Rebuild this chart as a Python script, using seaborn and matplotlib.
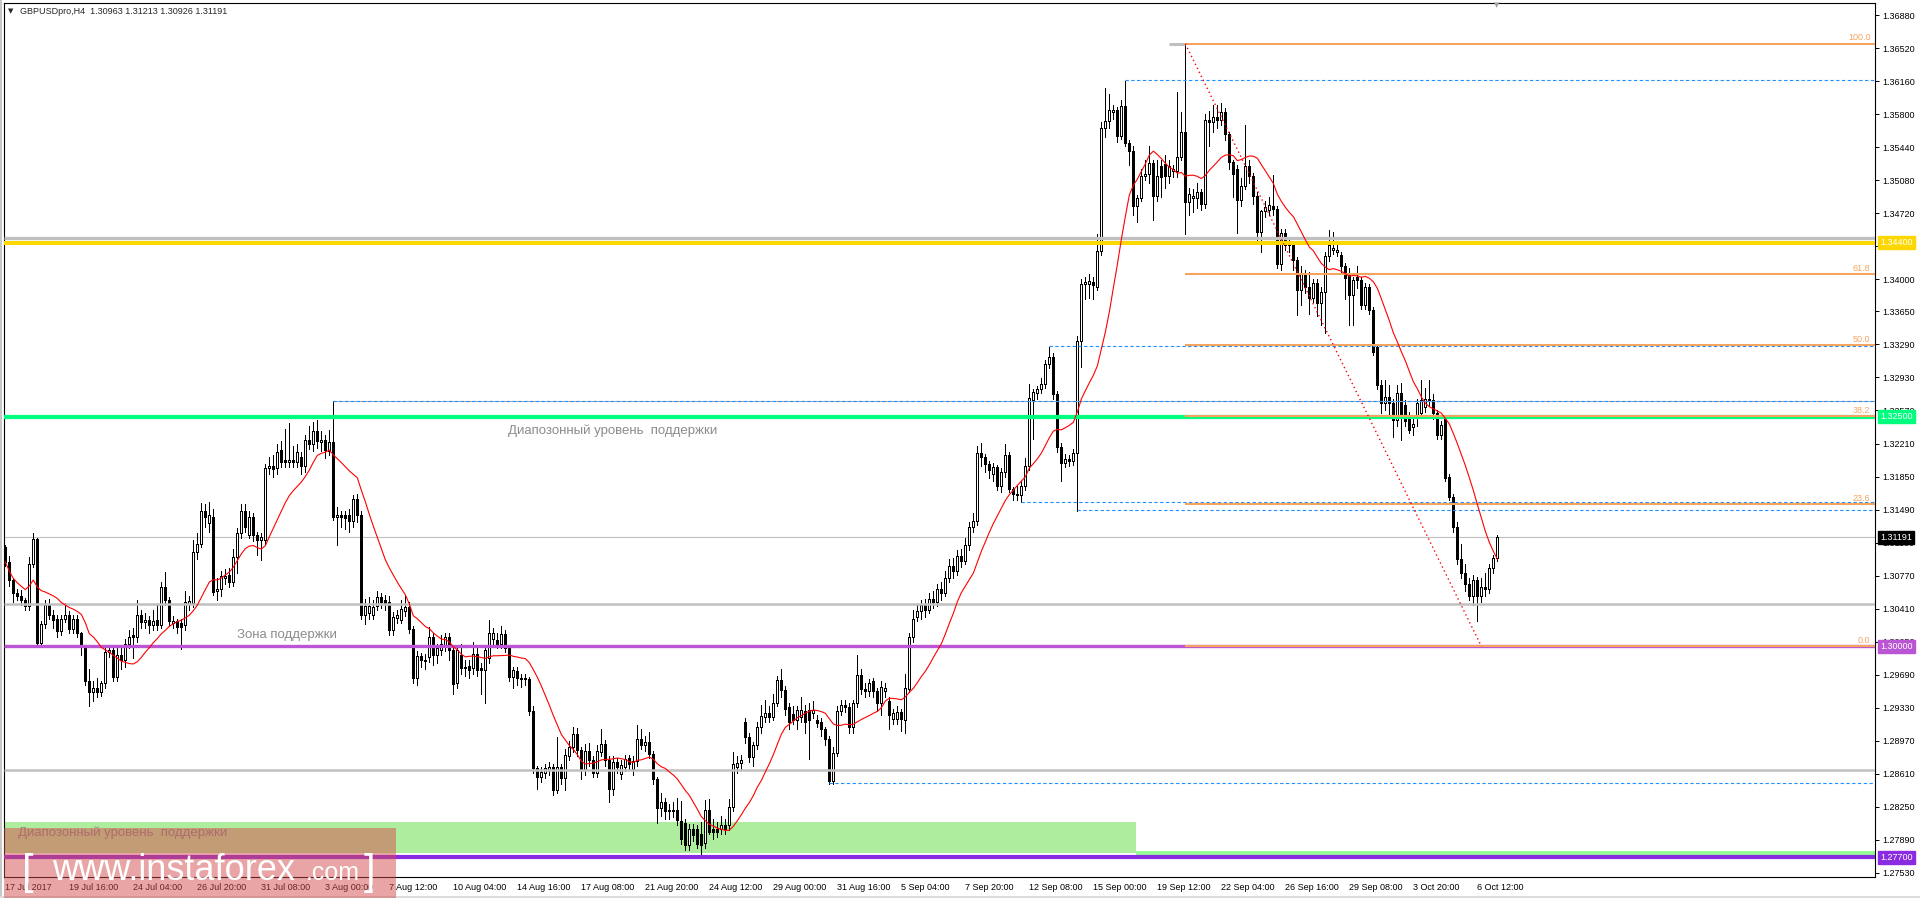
import matplotlib
matplotlib.use("Agg")
import matplotlib.pyplot as plt
import matplotlib.transforms as mtransforms
from matplotlib.patches import Rectangle
import numpy as np
import pandas as pd
import seaborn as sns

# ----------------------------
# 0. Data: GBPUSD H4 bars from 17 Jul 2017 (prices in 1e-4 units)
# ----------------------------
opens = [
    13108, 13092, 13072, 13058, 13055, 13050, 13044, 13090, 13117, 13004,
    13024, 13045, 13034, 13030, 13017, 13030, 13034, 13019, 13030, 13014,
    12999, 12962, 12950, 12955, 12950, 12960, 12994, 12996, 12967, 12990,
    12985, 13003, 13012, 13010, 13034, 13027, 13029, 13023, 13029, 13023,
    13065, 13050, 13025, 13028, 13025, 13023, 13046, 13047, 13103, 13112,
    13148, 13134, 13141, 13060, 13062, 13074, 13078, 13070, 13097, 13124,
    13148, 13121, 13141, 13121, 13116, 13116, 13194, 13196, 13194, 13214,
    13203, 13201, 13203, 13201, 13206, 13196, 13225, 13220, 13235, 13223,
    13225, 13213, 13223, 13141, 13143, 13143, 13143, 13137, 13161, 13143,
    13034, 13036, 13034, 13044, 13054, 13050, 13048, 13018, 13031, 13029,
    13039, 13043, 13019, 12965, 12989, 12985, 12988, 13010, 12990, 12996,
    13001, 13010, 12996, 12960, 12990, 12976, 12979, 12976, 12992, 12976,
    12974, 12987, 13008, 13007, 13003, 13013, 12998, 12967, 12973, 12965,
    12964, 12964, 12930, 12867, 12858, 12862, 12865, 12868, 12843, 12868,
    12856, 12881, 12890, 12904, 12887, 12865, 12886, 12876, 12862, 12885,
    12894, 12876, 12845, 12874, 12861, 12869, 12878, 12866, 12875, 12899,
    12892, 12896, 12883, 12855, 12824, 12830, 12822, 12820, 12822, 12810,
    12807, 12783, 12801, 12801, 12796, 12786, 12822, 12801, 12801, 12801,
    12805, 12805, 12825, 12868, 12873, 12918, 12901, 12879, 12892, 12912,
    12923, 12927, 12923, 12938, 12963, 12952, 12934, 12926, 12920, 12923,
    12929, 12931, 12927, 12920, 12918, 12910, 12899, 12853, 12884, 12929,
    12936, 12934, 12912, 12938, 12969, 12953, 12951, 12962, 12951, 12938,
    12951, 12940, 12921, 12921, 12928, 12920, 12953, 13010, 13032, 13038,
    13045, 13040, 13052, 13048, 13062, 13058, 13075, 13088, 13082, 13098,
    13093, 13110, 13130, 13137, 13211, 13206, 13199, 13188, 13195, 13175,
    13190, 13208, 13171, 13166, 13165, 13175, 13197, 13268, 13276, 13280,
    13286, 13308, 13315, 13275, 13217, 13200, 13204, 13202, 13211, 13333,
    13395, 13395, 13397, 13392, 13431, 13565, 13573, 13582, 13584, 13556,
    13589, 13549, 13540, 13480, 13489, 13513, 13515, 13527, 13491, 13524,
    13526, 13513, 13518, 13518, 13533, 13560, 13484, 13489, 13489, 13495,
    13482, 13574, 13571, 13577, 13574, 13582, 13558, 13528, 13520, 13486,
    13502, 13524, 13513, 13491, 13452, 13474, 13476, 13480, 13477, 13417,
    13450, 13441, 13437, 13421, 13388, 13406, 13392, 13380, 13396, 13374,
    13386, 13425, 13432, 13430, 13426, 13414, 13405, 13383, 13403, 13399,
    13372, 13392, 13367, 13326, 13285, 13265, 13272, 13265, 13247, 13276,
    13263, 13250, 13239, 13250, 13254, 13261, 13270, 13268, 13254, 13230,
    13248, 13185, 13163, 13130, 13095, 13080, 13068, 13055, 13072, 13055,
    13065, 13062, 13085, 13096,
]
highs = [
    13110, 13098, 13074, 13063, 13061, 13053, 13097, 13124, 13118, 13028,
    13050, 13052, 13040, 13034, 13034, 13047, 13038, 13034, 13034, 13016,
    13001, 12975, 12962, 12966, 12962, 12998, 13000, 13000, 12998, 12998,
    13008, 13018, 13020, 13050, 13040, 13036, 13033, 13040, 13045, 13070,
    13081, 13054, 13033, 13030, 13030, 13060, 13055, 13116, 13124, 13156,
    13155, 13157, 13150, 13075, 13082, 13084, 13085, 13106, 13129, 13155,
    13155, 13148, 13145, 13125, 13124, 13199, 13206, 13208, 13221, 13224,
    13237, 13243, 13218, 13220, 13212, 13230, 13240, 13245, 13247, 13235,
    13230, 13236, 13267, 13152, 13148, 13148, 13150, 13165, 13166, 13148,
    13052, 13054, 13050, 13060, 13058, 13056, 13055, 13037, 13040, 13050,
    13055, 13048, 13022, 12995, 12993, 12992, 13021, 13015, 13003, 13012,
    13015, 13014, 13000, 13000, 13002, 12985, 12985, 13005, 12998, 12982,
    13000, 13029, 13020, 13014, 13022, 13018, 13000, 12978, 12978, 12970,
    12970, 12967, 12935, 12870, 12868, 12872, 12874, 12872, 12901, 12872,
    12888, 12897, 12912, 12911, 12890, 12894, 12895, 12880, 12892, 12910,
    12898, 12880, 12880, 12878, 12876, 12882, 12882, 12880, 12914, 12910,
    12902, 12907, 12886, 12858, 12840, 12835, 12828, 12830, 12835, 12831,
    12812, 12806, 12806, 12805, 12808, 12832, 12834, 12812, 12808, 12815,
    12812, 12834, 12885, 12880, 12882, 12922, 12905, 12896, 12918, 12936,
    12942, 12935, 12948, 12968, 12975, 12957, 12938, 12935, 12935, 12945,
    12936, 12938, 12940, 12925, 12922, 12912, 12902, 12890, 12935, 12942,
    12942, 12938, 12942, 12991, 12975, 12960, 12964, 12965, 12955, 12962,
    12960, 12945, 12932, 12935, 12932, 12970, 13014, 13040, 13045, 13050,
    13052, 13058, 13060, 13068, 13070, 13082, 13095, 13096, 13105, 13106,
    13118, 13135, 13145, 13218, 13222, 13210, 13202, 13200, 13198, 13194,
    13221, 13212, 13174, 13175, 13180, 13205, 13286, 13280, 13284, 13292,
    13312, 13326, 13320, 13278, 13222, 13210, 13208, 13215, 13338, 13400,
    13402, 13406, 13402, 13449, 13571, 13609, 13602, 13590, 13588, 13595,
    13616, 13552, 13545, 13492, 13520, 13530, 13545, 13530, 13530, 13530,
    13535, 13530, 13525, 13604, 13582, 13656, 13500, 13498, 13505, 13498,
    13580, 13583, 13590, 13590, 13592, 13587, 13560, 13530, 13525, 13510,
    13568, 13530, 13516, 13495, 13476, 13485, 13490, 13514, 13480, 13455,
    13455, 13446, 13441, 13424, 13414, 13410, 13408, 13400, 13400, 13392,
    13430, 13454, 13452, 13438, 13430, 13418, 13412, 13403, 13415, 13403,
    13396, 13395, 13370, 13330, 13290, 13290, 13285, 13270, 13285, 13287,
    13268, 13255, 13248, 13270, 13290, 13282, 13290, 13275, 13258, 13246,
    13252, 13188, 13166, 13135, 13112, 13090, 13075, 13078, 13076, 13075,
    13080, 13090, 13100, 13121,
]
lows = [
    13088, 13066, 13048, 13050, 13045, 13040, 13040, 13086, 13002, 13000,
    13020, 13030, 13020, 13010, 13012, 13026, 13015, 13014, 13010, 12991,
    12958, 12935, 12940, 12945, 12946, 12955, 12988, 12962, 12962, 12975,
    12978, 12998, 12987, 13005, 13020, 13020, 13015, 13018, 13018, 13020,
    13045, 13022, 13020, 13015, 12997, 13018, 13040, 13043, 13095, 13108,
    13130, 13125, 13056, 13050, 13055, 13068, 13065, 13066, 13080, 13118,
    13125, 13118, 13115, 13100, 13094, 13112, 13188, 13185, 13188, 13195,
    13195, 13195, 13195, 13195, 13188, 13190, 13215, 13213, 13216, 13213,
    13205, 13208, 13138, 13110, 13130, 13128, 13125, 13130, 13135, 13030,
    13024, 13030, 13030, 13040, 13042, 13040, 13012, 13012, 13025, 13025,
    13033, 13015, 12960, 12958, 12978, 12975, 12983, 12980, 12982, 12990,
    12995, 12985, 12948, 12955, 12970, 12968, 12965, 12970, 12968, 12948,
    12938, 12982, 13002, 12998, 12998, 12994, 12962, 12955, 12958, 12956,
    12958, 12925, 12862, 12845, 12852, 12856, 12860, 12838, 12840, 12850,
    12843, 12876, 12885, 12880, 12855, 12860, 12870, 12858, 12858, 12880,
    12870, 12830, 12838, 12862, 12855, 12864, 12866, 12860, 12870, 12888,
    12886, 12878, 12850, 12807, 12815, 12812, 12812, 12814, 12805, 12785,
    12778, 12778, 12788, 12780, 12772, 12780, 12795, 12790, 12792, 12795,
    12796, 12800, 12820, 12862, 12866, 12895, 12874, 12870, 12888, 12905,
    12918, 12918, 12920, 12935, 12945, 12925, 12910, 12915, 12910, 12918,
    12905, 12877, 12922, 12912, 12902, 12892, 12850, 12850, 12880, 12925,
    12928, 12905, 12906, 12934, 12948, 12945, 12946, 12945, 12930, 12925,
    12945, 12910, 12915, 12915, 12908, 12905, 12950, 13005, 13028, 13030,
    13032, 13036, 13042, 13044, 13050, 13055, 13070, 13075, 13078, 13086,
    13090, 13105, 13125, 13132, 13196, 13190, 13183, 13180, 13170, 13168,
    13185, 13168, 13160, 13160, 13157, 13170, 13192, 13226, 13270, 13276,
    13282, 13303, 13270, 13212, 13180, 13195, 13196, 13198, 13148, 13304,
    13378, 13380, 13378, 13388, 13427, 13555, 13565, 13575, 13550, 13553,
    13545, 13525, 13470, 13462, 13485, 13508, 13505, 13465, 13485, 13490,
    13500, 13505, 13512, 13512, 13530, 13449, 13470, 13473, 13478, 13475,
    13478, 13545, 13560, 13565, 13568, 13552, 13520, 13490, 13450, 13480,
    13498, 13505, 13482, 13440, 13430, 13468, 13470, 13470, 13412, 13410,
    13432, 13430, 13410, 13361, 13372, 13385, 13362, 13375, 13360, 13350,
    13341, 13420, 13428, 13425, 13408, 13379, 13350, 13350, 13390, 13368,
    13368, 13362, 13318, 13280, 13254, 13258, 13250, 13228, 13240, 13225,
    13240, 13232, 13230, 13240, 13250, 13255, 13262, 13248, 13226, 13226,
    13180, 13160, 13125, 13090, 13075, 13060, 13050, 13045, 13028, 13048,
    13055, 13058, 13080, 13093,
]
closes = [
    13092, 13072, 13058, 13055, 13050, 13044, 13090, 13117, 13004, 13024,
    13045, 13034, 13029, 13017, 13030, 13034, 13019, 13030, 13015, 12999,
    12962, 12950, 12955, 12950, 12960, 12994, 12996, 12967, 12990, 12985,
    13003, 13010, 13010, 13034, 13027, 13029, 13023, 13028, 13023, 13065,
    13050, 13028, 13028, 13021, 13021, 13048, 13049, 13103, 13112, 13148,
    13141, 13143, 13059, 13062, 13077, 13077, 13070, 13097, 13124, 13148,
    13130, 13141, 13121, 13116, 13119, 13194, 13196, 13193, 13212, 13201,
    13201, 13203, 13201, 13212, 13196, 13225, 13220, 13235, 13224, 13225,
    13214, 13223, 13141, 13143, 13141, 13140, 13137, 13161, 13143, 13034,
    13044, 13044, 13043, 13054, 13048, 13047, 13018, 13032, 13034, 13041,
    13043, 13019, 12965, 12989, 12985, 12984, 13010, 12990, 12998, 13003,
    13010, 12996, 12959, 12996, 12976, 12978, 12974, 12992, 12974, 12974,
    12996, 13014, 13014, 13003, 13013, 12998, 12967, 12974, 12965, 12964,
    12965, 12930, 12867, 12858, 12863, 12867, 12868, 12843, 12868, 12856,
    12882, 12890, 12904, 12887, 12865, 12886, 12876, 12862, 12886, 12894,
    12876, 12845, 12874, 12869, 12871, 12877, 12872, 12875, 12899, 12892,
    12896, 12883, 12855, 12824, 12830, 12820, 12820, 12822, 12811, 12790,
    12783, 12801, 12794, 12785, 12783, 12822, 12798, 12798, 12798, 12805,
    12801, 12825, 12872, 12873, 12876, 12901, 12879, 12892, 12912, 12924,
    12927, 12923, 12938, 12963, 12952, 12932, 12918, 12920, 12931, 12931,
    12918, 12920, 12931, 12916, 12910, 12899, 12853, 12884, 12929, 12936,
    12934, 12912, 12938, 12969, 12953, 12951, 12960, 12951, 12938, 12956,
    12955, 12925, 12927, 12928, 12921, 12955, 13010, 13030, 13038, 13045,
    13040, 13052, 13048, 13062, 13058, 13075, 13088, 13082, 13098, 13093,
    13110, 13130, 13137, 13211, 13206, 13199, 13192, 13195, 13175, 13190,
    13208, 13171, 13166, 13165, 13175, 13197, 13271, 13277, 13280, 13286,
    13308, 13315, 13275, 13217, 13200, 13204, 13202, 13211, 13333, 13395,
    13397, 13398, 13394, 13431, 13565, 13573, 13584, 13584, 13556, 13589,
    13549, 13540, 13480, 13489, 13513, 13515, 13527, 13491, 13513, 13511,
    13513, 13524, 13520, 13533, 13560, 13484, 13493, 13491, 13495, 13482,
    13574, 13571, 13577, 13574, 13582, 13558, 13528, 13515, 13486, 13502,
    13524, 13513, 13491, 13452, 13474, 13479, 13481, 13477, 13417, 13450,
    13437, 13437, 13421, 13388, 13406, 13392, 13380, 13396, 13374, 13386,
    13425, 13437, 13434, 13432, 13414, 13401, 13383, 13399, 13399, 13372,
    13392, 13367, 13321, 13285, 13265, 13272, 13265, 13247, 13276, 13250,
    13246, 13236, 13242, 13265, 13268, 13270, 13268, 13254, 13230, 13241,
    13183, 13163, 13130, 13095, 13080, 13068, 13055, 13072, 13055, 13065,
    13062, 13085, 13096, 13119,
]

time_labels = [
    "17 Jul 2017", "19 Jul 16:00", "24 Jul 04:00", "26 Jul 20:00", "31 Jul 08:00",
    "3 Aug 00:00", "7 Aug 12:00", "10 Aug 04:00", "14 Aug 16:00", "17 Aug 08:00",
    "21 Aug 20:00", "24 Aug 12:00", "29 Aug 00:00", "31 Aug 16:00", "5 Sep 04:00",
    "7 Sep 20:00", "12 Sep 08:00", "15 Sep 00:00", "19 Sep 12:00", "22 Sep 04:00",
    "26 Sep 16:00", "29 Sep 08:00", "3 Oct 20:00", "6 Oct 12:00",
]
time_label_bars = [0, 16, 32, 48, 64, 80, 96, 112, 128, 144, 160, 176,
                   192, 208, 224, 240, 256, 272, 288, 304, 320, 336, 352, 368]

price_ticks = [1.36880, 1.36520, 1.36160, 1.35800, 1.35440, 1.35080, 1.34720,
               1.34360, 1.34000, 1.33650, 1.33290, 1.32930, 1.32570, 1.32210,
               1.31850, 1.31490, 1.31130, 1.30770, 1.30410, 1.30050, 1.29690,
               1.29330, 1.28970, 1.28610, 1.28250, 1.27890, 1.27530]

# support / resistance levels with price tags on the axis
tag_prices = [1.34400, 1.32500, 1.30000, 1.27700]
tag_colors = ["#FFD700", "#00FF7F", "#BA55D3", "#8A2BE2"]
tag_widths = [2.9, 3.0, 2.4, 3.0]
gray_levels = [1.34455, 1.30460, 1.28652]
bid_price = 1.31191

# dashed helper lines: price and first bar
dash_prices = [1.36172, 1.33273, 1.32677, 1.31576, 1.31486, 1.28511]
dash_start = [280, 261, 82, 254, 268, 206]

# fibonacci retracement
fib_high = 1.36566
fib_low = 1.30000
fib_start, fib_end = 295, 369
fib_levels = [0.0, 23.6, 38.2, 50.0, 61.8, 100.0]

# support zone rectangle
zone_low, zone_high, zone_end = 1.27745, 1.28090, 282.7

# ----------------------------
# 1. Frame
# ----------------------------
df = pd.DataFrame({"open": opens, "high": highs, "low": lows, "close": closes}) / 10000.0
df["bar"] = np.arange(len(df))
df["ma"] = df["close"].rolling(14, min_periods=1).mean()

sns.set_style("white")
plt.rcParams["font.family"] = ["Liberation Sans", "DejaVu Sans"]

W, H = 1920, 898
fig = plt.figure(figsize=(19.2, 8.98), dpi=100)
ax = fig.add_axes([4 / W, 21 / H, 1871 / W, 874 / H])
XMIN, XMAX = -0.33, 467.4
YMIN, YMAX = 1.27486, 1.37011

# support zone (background)
ax.add_patch(Rectangle((XMIN, zone_low), zone_end - XMIN, zone_high - zone_low,
                       facecolor="#AEEC9E", edgecolor="none", zorder=1))
ax.add_patch(Rectangle((zone_end, 1.27722), XMAX - zone_end, 0.00042,
                       facecolor="#98FB98", edgecolor="none", zorder=1))

# candles: 1px wicks, 3px bodies (white = up, black = down)
up = df["close"] >= df["open"]
ax.vlines(df["bar"], df["low"], df["high"], color="black", lw=0.72,
          zorder=3, antialiased=False)
body_bottom = df[["open", "close"]].min(axis=1)
body_height = (df["close"] - df["open"]).abs()
ax.bar(df["bar"], body_height, bottom=body_bottom, width=0.5,
       color=np.where(up, "white", "black"), edgecolor="black",
       linewidth=0.72, zorder=4, antialiased=False)

# moving average
sns.lineplot(data=df, x="bar", y="ma", color="red", linewidth=0.8,
             estimator=None, ax=ax, zorder=7)

# horizontal levels
ax.hlines(bid_price, XMIN, XMAX, color="#C0C0C0", lw=0.8, zorder=2)
for p in gray_levels:
    ax.hlines(p, XMIN, XMAX, color="#C0C0C0", lw=2.4 if p > 1.34 else 1.8, zorder=5)
ax.hlines(1.32677, 82, XMAX, color="#A9A9A9", lw=0.8, zorder=5)
ax.hlines(fib_high, 291, fib_start, color="#C0C0C0", lw=2.2, zorder=5)
for p, s in zip(dash_prices, dash_start):
    ax.hlines(p, s, XMAX, color="#1E90FF", lw=0.8, linestyles=(0, (3, 2.2)), zorder=6)
for p, c, w in zip(tag_prices, tag_colors, tag_widths):
    ax.hlines(p, XMIN, XMAX, color=c, lw=w, zorder=6)

# fibonacci
for lv in fib_levels:
    p = fib_low + (fib_high - fib_low) * lv / 100.0
    ax.hlines(p, fib_start, XMAX, color="#F4A460", lw=1.5, zorder=6)
    ax.text(466.3, p + 0.00015, f"{lv:.1f}", color="#F4A460", fontsize=6.5,
            ha="right", va="bottom", zorder=8)
ax.plot([fib_start, fib_end], [fib_high, fib_low], color="red", lw=1.0,
        linestyle=(0, (1, 2.2)), zorder=6)

# chart notes
ax.text(125.7, 1.32347, "Диапозонный уровень  поддержки", color="#8C8C8C",
        fontsize=9.5, va="center", ha="left", zorder=8)
ax.text(58, 1.30123, "Зона поддержки", color="#8C8C8C",
        fontsize=9.5, va="center", ha="left", zorder=8)
ax.text(3.2, 1.27966, "Диапозонный уровень  поддержки", color="#8C8C8C",
        fontsize=9.5, va="center", ha="left", zorder=8)

# ----------------------------
# 2. Axes
# ----------------------------
ax.set_xlim(XMIN, XMAX)
ax.set_ylim(YMIN, YMAX)
ax.set_xlabel("")
ax.set_ylabel("")
for sp in ax.spines.values():
    sp.set_visible(True)
    sp.set_color("black")
    sp.set_linewidth(0.8)

ax.yaxis.tick_right()
ax.set_yticks(price_ticks)
ax.set_yticklabels([f"{p:.5f}" for p in price_ticks])
ax.tick_params(axis="y", direction="out", length=3, width=0.7, pad=2,
               labelsize=6.5, colors="black", right=True, left=False)
ax.set_xticks(time_label_bars)
ax.set_xticklabels(time_labels, ha="left")
ax.tick_params(axis="x", direction="out", length=3, width=0.7, pad=1.5,
               labelsize=6.5, colors="black")
ax.grid(False)

# price tags on the right axis
tag_tr = mtransforms.blended_transform_factory(ax.transAxes, ax.transData)
for p, c in zip(tag_prices + [bid_price], tag_colors + ["black"]):
    ax.text(1.0028, p, f"{p:.5f}", transform=tag_tr, color="white", fontsize=6.5,
            ha="left", va="center", clip_on=False, zorder=20,
            bbox=dict(boxstyle="square,pad=0.22", fc=c, ec=c))

# title line and shift marker
fig.text(11 / W, 1 - 11 / H, "▼", fontsize=5, ha="center", va="center",
         family=["DejaVu Sans"])
fig.text(20 / W, 1 - 11 / H, "GBPUSDpro,H4  1.30963 1.31213 1.30926 1.31191",
         fontsize=6.5, ha="left", va="center")
fig.text(1497 / W, 1 - 5 / H, "▼", fontsize=5, ha="center", va="center",
         color="#A0A0A0", family=["DejaVu Sans"])

# window borders
fig.add_artist(Rectangle((0, 0), 2 / W, 1, transform=fig.transFigure,
                         facecolor="#C8C8C8", edgecolor="none"))
fig.add_artist(Rectangle((0, 0), 1, 2 / H, transform=fig.transFigure,
                         facecolor="#DCDCDC", edgecolor="none"))

# watermark
fig.add_artist(Rectangle((4 / W, 0), 392 / W, 70 / H, transform=fig.transFigure,
                         facecolor=(0.83, 0.30, 0.30), alpha=0.5,
                         edgecolor="none", zorder=30))
base = (H - 880) / H
fig.text(22 / W, base - 0.004, "[", color="white", fontsize=30, ha="left",
         va="baseline", zorder=31)
fig.text(52 / W, base, "www.instaforex", color="white", fontsize=26,
         ha="left", va="baseline", zorder=31)
fig.text(306 / W, base, ".com", color="white", fontsize=18, ha="left",
         va="baseline", zorder=31)
fig.text(364 / W, base - 0.004, "]", color="white", fontsize=30, ha="left",
         va="baseline", zorder=31)

fig.savefig("out.png", dpi=100)
